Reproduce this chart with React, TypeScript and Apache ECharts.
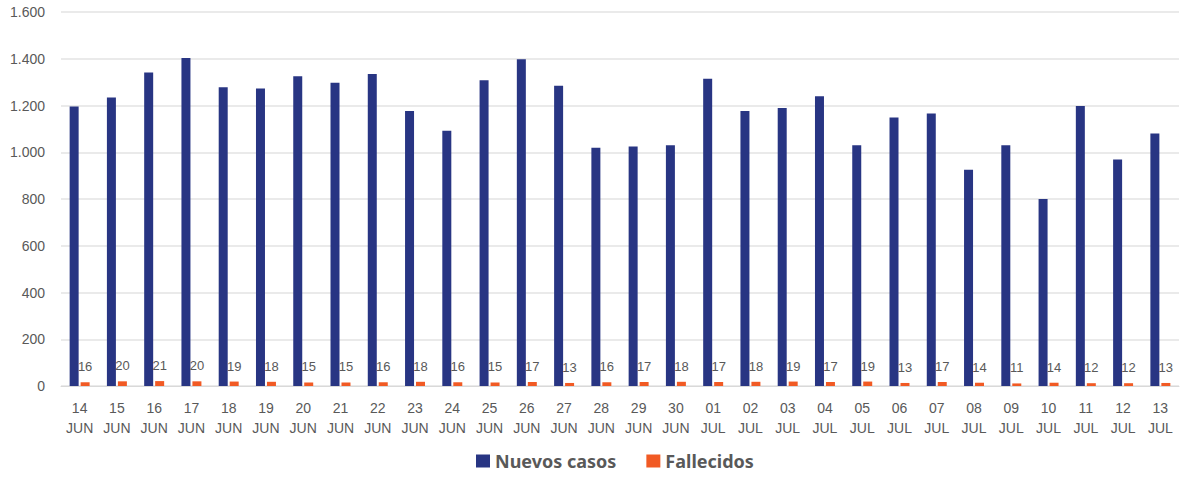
import React, { useEffect, useRef } from "react";
import * as echarts from "echarts";

const days = ["14","15","16","17","18","19","20","21","22","23","24","25","26","27","28","29","30","01","02","03","04","05","06","07","08","09","10","11","12","13"];
const months = ["JUN","JUN","JUN","JUN","JUN","JUN","JUN","JUN","JUN","JUN","JUN","JUN","JUN","JUN","JUN","JUN","JUN","JUL","JUL","JUL","JUL","JUL","JUL","JUL","JUL","JUL","JUL","JUL","JUL","JUL"];
const categories = days.map((d, i) => d + "\n" + months[i]);
const nuevosCasos = [1196, 1234, 1341, 1403, 1278, 1273, 1325, 1297, 1335, 1176, 1092, 1308, 1398, 1284, 1019, 1025, 1030, 1314, 1177, 1189, 1240, 1030, 1149, 1166, 925, 1030, 800, 1198, 969, 1080];
const fallecidos = [16, 20, 21, 20, 19, 18, 15, 15, 16, 18, 16, 15, 17, 13, 16, 17, 18, 17, 18, 19, 17, 19, 13, 17, 14, 11, 14, 12, 12, 13];
const yMin = 0;
const yMax = 1600;
const yStep = 200;

const BLUE = "#283583";
const ORANGE = "#F15A24";
const GRAY = "#595959";

export default function App() {
  const ref = useRef<HTMLDivElement>(null);
  useEffect(() => {
    document.body.style.margin = "0";
    const chart = echarts.init(ref.current!, null, { renderer: "svg" });
    chart.setOption({
      animation: false,
      textStyle: { fontFamily: "'Liberation Sans', Arial, sans-serif" },
      grid: { left: 61, right: 20, top: 12, bottom: 91 },
      legend: {
        left: 476,
        top: 452,
        padding: 0,
        itemWidth: 14,
        itemHeight: 13,
        itemGap: 30,
        icon: "rect",
        textStyle: { color: GRAY, fontSize: 18, lineHeight: 18, fontWeight: "bold", fontFamily: "'Noto Sans', sans-serif" },
        data: ["Nuevos casos", "Fallecidos"],
      },
      xAxis: {
        type: "category",
        data: categories,
        axisLine: { lineStyle: { color: "#d9d9d9", width: 1 } },
        axisTick: { show: false },
        axisLabel: { color: GRAY, fontSize: 14, margin: 12, lineHeight: 20, interval: 0 },
      },
      yAxis: {
        type: "value",
        min: yMin,
        max: yMax,
        interval: yStep,
        axisLine: { show: false },
        axisTick: { show: false },
        splitLine: { lineStyle: { color: "#e3e3e3", width: 1.5 } },
        axisLabel: {
          color: GRAY,
          fontSize: 14,
          margin: 16,
          formatter: (v: number) => String(v).replace(/\B(?=(\d{3})+(?!\d))/g, "."),
        },
      },
      series: [
        {
          name: "Nuevos casos",
          type: "bar",
          data: nuevosCasos,
          barWidth: 9,
          barGap: "22%",
          itemStyle: { color: BLUE },
        },
        {
          name: "Fallecidos",
          type: "bar",
          data: fallecidos,
          barWidth: 9,
          itemStyle: { color: ORANGE },
          label: { show: true, position: "top", distance: 9, color: GRAY, fontSize: 13 },
        },
      ],
    });
    return () => chart.dispose();
  }, []);
  return <div ref={ref} style={{ width: 1199, height: 477 }} />;
}
